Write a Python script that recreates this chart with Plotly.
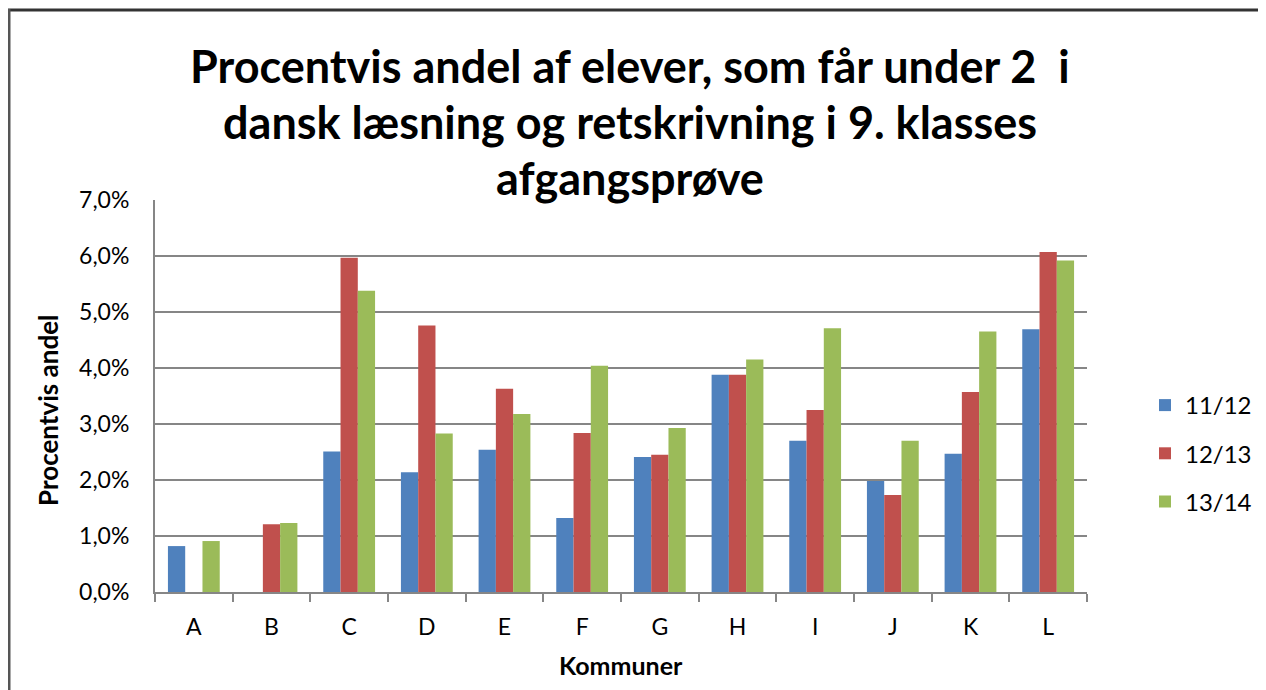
import plotly.graph_objects as go

kommuner = ["A", "B", "C", "D", "E", "F", "G", "H", "I", "J", "K", "L"]
aar_11_12 = [0.0082, 0.0, 0.0251, 0.0214, 0.0254, 0.0132, 0.0241, 0.0388, 0.0270, 0.0198, 0.0247, 0.0469]
aar_12_13 = [0.0, 0.0121, 0.0597, 0.0476, 0.0363, 0.0284, 0.0245, 0.0388, 0.0325, 0.0173, 0.0357, 0.0607]
aar_13_14 = [0.0091, 0.0123, 0.0538, 0.0283, 0.0318, 0.0404, 0.0293, 0.0415, 0.0471, 0.0270, 0.0465, 0.0592]
serier = ["11/12", "12/13", "13/14"]
farver = ["#4F81BD", "#C0504D", "#9BBB59"]
y_ticks = [0, 0.01, 0.02, 0.03, 0.04, 0.05, 0.06, 0.07]
y_labels = ["0,0%", "1,0%", "2,0%", "3,0%", "4,0%", "5,0%", "6,0%", "7,0%"]
titel = ["Procentvis andel af elever, som får under 2  i",
         "dansk læsning og retskrivning i 9. klasses",
         "afgangsprøve"]

font = "Lato, Calibri, sans-serif"

fig = go.Figure()
for navn, vals, farve in zip(serier, [aar_11_12, aar_12_13, aar_13_14], farver):
    fig.add_trace(go.Bar(x=kommuner, y=vals, name=navn, legendgroup=navn,
                         marker=dict(color=farve, line=dict(width=0))))

# page body has an 8px margin, so work in page pixels and shift
OFF = 8
FW, FH = 1266 - OFF, 690 - OFF
L, R, T, B = 155 - OFF, 1087 - OFF, 200 - OFF, 592 - OFF
W, H = R - L, B - T

def px_x(p):
    return (p - OFF - L) / W

def px_y(p):
    return (B - (p - OFF)) / H

annots = []
for i, linje in enumerate(titel):
    annots.append(dict(text="<b>%s</b>" % linje, x=px_x(630), xref="paper", y=px_y(66 + i * 56),
                       yref="paper", xanchor="center", yanchor="middle", showarrow=False,
                       font=dict(family=font, size=45, color="black")))
annots.append(dict(text="<b>Procentvis andel</b>", x=px_x(48), xref="paper", y=px_y(410),
                   yref="paper", textangle=-90, showarrow=False, xanchor="center", yanchor="middle",
                   font=dict(family=font, size=26, color="black")))
annots.append(dict(text="<b>Kommuner</b>", x=px_x(621), xref="paper", y=px_y(665),
                   yref="paper", showarrow=False, xanchor="center", yanchor="middle",
                   font=dict(family=font, size=25, color="black")))

fig.update_layout(
    width=FW, height=FH,
    margin=dict(l=L, r=FW - R, t=T, b=FH - B, autoexpand=False),
    paper_bgcolor="white", plot_bgcolor="white",
    barmode="group", bargap=0.333, bargroupgap=0,
    font=dict(family=font, size=23, color="black"),
    annotations=annots,
    legend=dict(x=px_x(1145), y=px_y(383), xanchor="left", yanchor="top",
                font=dict(family=font, size=24), tracegroupgap=14,
                itemwidth=30, bgcolor="rgba(0,0,0,0)"),
    shapes=[
        dict(type="line", xref="paper", yref="paper", x0=px_x(0), x1=px_x(1300),
             y0=px_y(10), y1=px_y(10), line=dict(color="#333333", width=3)),
        dict(type="line", xref="paper", yref="paper", x0=px_x(9), x1=px_x(9),
             y0=px_y(9), y1=px_y(720), line=dict(color="#555555", width=3)),
    ],
)
fig.update_xaxes(showline=True, linecolor="#868686", linewidth=2, ticks="outside",
                 tickson="boundaries", ticklen=8, tickcolor="#868686", tickwidth=2,
                 ticklabelstandoff=13, tickfont=dict(size=23), showgrid=False)
fig.update_yaxes(range=[0, 0.07], tickvals=y_ticks, ticktext=y_labels,
                 showline=True, linecolor="#868686", linewidth=2,
                 showgrid=True, gridcolor="#868686", gridwidth=2, zeroline=False,
                 ticks="", ticklabelstandoff=19, tickfont=dict(size=23))

fig.write_html("out.html")
